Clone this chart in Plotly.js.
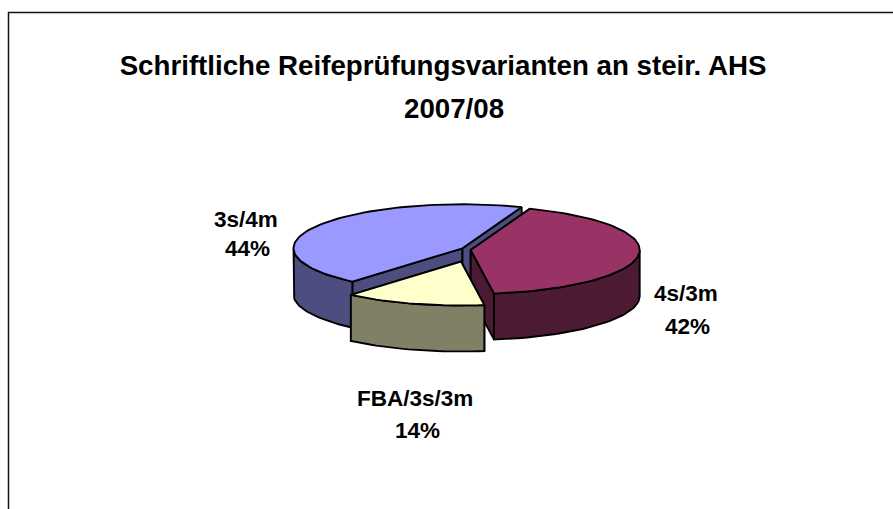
<!DOCTYPE html>
<html><head><meta charset="utf-8">
<script src="https://cdn.plot.ly/plotly-3.0.1.min.js"></script>
<style>html,body{margin:0;padding:0;background:#fff}#c{width:893px;height:509px}</style>
</head><body><div id="c"></div>
<script>
const categories = ['4s/3m', 'FBA/3s/3m', '3s/4m'];
const values = [42.1, 13.5, 44.4];
const topColors = ['#993366', '#FFFFCC', '#9999FF'];
const wallColors = ['#4D1A33', '#808066', '#4D4D80'];
const titleLine1 = 'Schriftliche Reifeprüfungsvarianten an steir. AHS';
const titleLine2 = '2007/08';

// Projection of the tilted pie
const startAngle = 69.5, rx = 169, ry = 44, depth = 46;
const centres = [[470.7, 250], [461, 261.5], [462.5, 248.3]];
const labelPos = [[686, 293, 687, 326], [414.5, 398, 417, 430], [246, 219, 247, 248]];
const drawOrder = [2, 0, 1];

const traces = [];
function poly(pts, fill) {
  traces.push({type:'scatter', mode:'lines', x:pts.map(p=>p[0]), y:pts.map(p=>p[1]),
    fill:'toself', fillcolor:fill, line:{color:'#000', width:1.9, shape:'linear'},
    hoverinfo:'skip', showlegend:false});
}
const total = values.reduce((a,b)=>a+b,0);
const ranges = []; let acc = startAngle;
values.forEach(v => { const next = acc - 360*v/total; ranges.push([acc, next]); acc = next; });
const pt = (c,t,dz) => [c[0]+rx*Math.cos(t*Math.PI/180), c[1]-ry*Math.sin(t*Math.PI/180)+dz];

drawOrder.forEach(i => {
  const c = centres[i], [a,b] = ranges[i];
  const angles = []; for (let t=a; t>b; t-=2) angles.push(t); angles.push(b);
  // cut walls
  poly([pt(c,a,0), [c[0],c[1]], [c[0],c[1]+depth], pt(c,a,depth), pt(c,a,0)], wallColors[i]);
  poly([pt(c,b,0), [c[0],c[1]], [c[0],c[1]+depth], pt(c,b,depth), pt(c,b,0)], wallColors[i]);
  // outer wall: lower half of the rim only
  const vis = angles.filter(t => Math.sin(t*Math.PI/180) <= 0);
  if (vis.length > 1) {
    poly(vis.map(t=>pt(c,t,0)).concat(vis.slice().reverse().map(t=>pt(c,t,depth))).concat([pt(c,vis[0],0)]), wallColors[i]);
  }
  // top face
  poly([[c[0],c[1]]].concat(angles.map(t=>pt(c,t,0))).concat([[c[0],c[1]]]), topColors[i]);
});

const font = {family:'"Liberation Sans", Arial, sans-serif', size:22.5, color:'#000'};
const titleSize = 27.7;
const annotations = [];
categories.forEach((n,i) => {
  const [x1,y1,x2,y2] = labelPos[i];
  annotations.push({x:x1, y:y1, xref:'x', yref:'y', text:'<b>'+n+'</b>', showarrow:false, font});
  annotations.push({x:x2, y:y2, xref:'x', yref:'y', text:'<b>'+Math.round(values[i])+'%</b>', showarrow:false, font});
});
annotations.push({x:454, y:108, xref:'x', yref:'y', text:'<b>'+titleLine2+'</b>', showarrow:false,
  font:{family:font.family, size:titleSize, color:'#000'}});

Plotly.newPlot('c', traces, {
  width:893, height:509, margin:{l:0,r:0,t:0,b:0}, paper_bgcolor:'#fff', plot_bgcolor:'#fff',
  showlegend:false, hovermode:false,
  title:{text:'<b>'+titleLine1+'</b>', x:443/893, xanchor:'center', y:1-65/509, yanchor:'middle',
    font:{family:font.family, size:titleSize, color:'#000'}},
  xaxis:{range:[0,893], visible:false, fixedrange:true},
  yaxis:{range:[509,0], visible:false, fixedrange:true},
  annotations,
  shapes:[{type:'path', xref:'x', yref:'y', path:'M8.5,509 L8.5,12.5 L893,12.5', line:{color:'#111', width:1.5}}]
}, {displayModeBar:false, staticPlot:true});
</script></body></html>
